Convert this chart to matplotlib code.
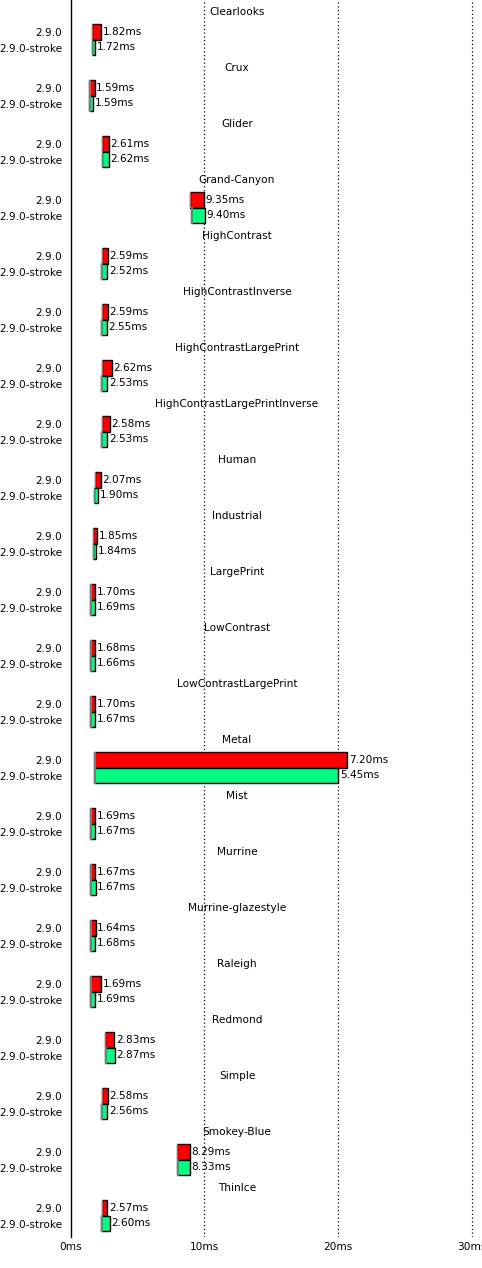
import matplotlib
matplotlib.use("Agg")
import matplotlib.pyplot as plt
import numpy as np

themes = ["Clearlooks", "Crux", "Glider", "Grand-Canyon", "HighContrast",
          "HighContrastInverse", "HighContrastLargePrint", "HighContrastLargePrintInverse",
          "Human", "Industrial", "LargePrint", "LowContrast", "LowContrastLargePrint",
          "Metal", "Mist", "Murrine", "Murrine-glazestyle", "Raleigh", "Redmond",
          "Simple", "Smokey-Blue", "ThinIce"]
series = ["2.9.0", "2.9.0-stroke"]

# displayed values (ms)
val_290 = [1.82, 1.59, 2.61, 9.35, 2.59, 2.59, 2.62, 2.58, 2.07, 1.85, 1.70, 1.68,
           1.70, 7.20, 1.69, 1.67, 1.64, 1.69, 2.83, 2.58, 8.29, 2.57]
val_stroke = [1.72, 1.59, 2.62, 9.40, 2.52, 2.55, 2.53, 2.53, 1.90, 1.84, 1.69, 1.66,
              1.67, 5.45, 1.67, 1.67, 1.68, 1.69, 2.87, 2.56, 8.33, 2.60]

# range bars (min .. max, ms)
lo_290 = [1.60, 1.40, 2.35, 8.92, 2.35, 2.35, 2.35, 2.35, 1.83, 1.68, 1.46, 1.46,
          1.46, 1.78, 1.46, 1.46, 1.46, 1.46, 2.57, 2.35, 7.93, 2.35]
hi_290 = [2.30, 1.81, 2.87, 9.96, 2.80, 2.80, 3.10, 2.95, 2.28, 2.01, 1.83, 1.83,
          1.83, 20.69, 1.83, 1.83, 1.87, 2.28, 3.28, 2.80, 8.92, 2.76]
lo_stroke = [1.60, 1.40, 2.35, 9.04, 2.31, 2.31, 2.31, 2.31, 1.72, 1.68, 1.49, 1.49,
             1.49, 1.78, 1.49, 1.46, 1.49, 1.49, 2.61, 2.31, 7.97, 2.31]
hi_stroke = [1.83, 1.70, 2.87, 10.06, 2.76, 2.72, 2.76, 2.76, 2.05, 1.94, 1.83, 1.83,
             1.83, 20.01, 1.83, 1.87, 1.83, 1.83, 3.32, 2.76, 8.94, 2.95]

xticks = [0, 10, 20, 30]
xticklabels = ["0ms", "10ms", "20ms", "30ms"]

W, H = 482, 1268
fig = plt.figure(figsize=(W / 100, H / 100), dpi=100)
x0 = 70.5
px_per_ms = (472 - 70.5) / 30.0
ax_bottom_px = 1237
ax = fig.add_axes([x0 / W, (H - ax_bottom_px) / H, (W - x0) / W, ax_bottom_px / H])
ax.set_xlim(0, (W - x0) / px_per_ms)
ax.set_ylim(ax_bottom_px, 0)

fs = 7.6
n = len(themes)
group = 56
bh = 15.5
y_red = np.arange(n) * group + 32
y_grn = np.arange(n) * group + 47.5
y_title = np.arange(n) * group + 12

for x in xticks[1:]:
    ax.axvline(x, color="black", linestyle=(0, (1, 2)), linewidth=0.9, zorder=1)

lo_r, hi_r = np.array(lo_290), np.array(hi_290)
lo_g, hi_g = np.array(lo_stroke), np.array(hi_stroke)
ax.barh(y_red, hi_r - lo_r, left=lo_r, height=bh, color="#ff0000",
        edgecolor="black", linewidth=1.0, zorder=3)
ax.barh(y_grn, hi_g - lo_g, left=lo_g, height=bh, color="#00ff80",
        edgecolor="black", linewidth=1.0, zorder=3)
gw = 0.11
ax.barh(y_red, gw, left=lo_r, height=bh + 1, color="#7a7a7a", linewidth=0, zorder=4)
ax.barh(y_grn, gw, left=lo_g, height=bh + 1, color="#7a7a7a", linewidth=0, zorder=4)

off = 1.5 / px_per_ms
for i in range(n):
    ax.text(hi_r[i] + off, y_red[i], f"{val_290[i]:.2f}ms", ha="left", va="center",
            fontsize=fs, zorder=5)
    ax.text(hi_g[i] + off, y_grn[i], f"{val_stroke[i]:.2f}ms", ha="left", va="center",
            fontsize=fs, zorder=5)
    ax.text((237 - x0) / (W - x0), y_title[i], themes[i], ha="center", va="center",
            fontsize=fs, transform=ax.get_yaxis_transform(), zorder=5)

yt = np.ravel(np.column_stack([y_red, y_grn]))
ytl = series * n
ax.set_yticks(yt)
ax.set_yticklabels(ytl, fontsize=fs)
ax.tick_params(axis="y", length=0, pad=6)
ax.set_xticks(xticks)
ax.set_xticklabels(xticklabels, fontsize=fs)
ax.tick_params(axis="x", length=0, pad=3.5)

for s in ["top", "right", "bottom"]:
    ax.spines[s].set_visible(False)
ax.spines["left"].set_linewidth(1.0)
ax.spines["left"].set_color("black")

fig.savefig("out.png", dpi=100)
